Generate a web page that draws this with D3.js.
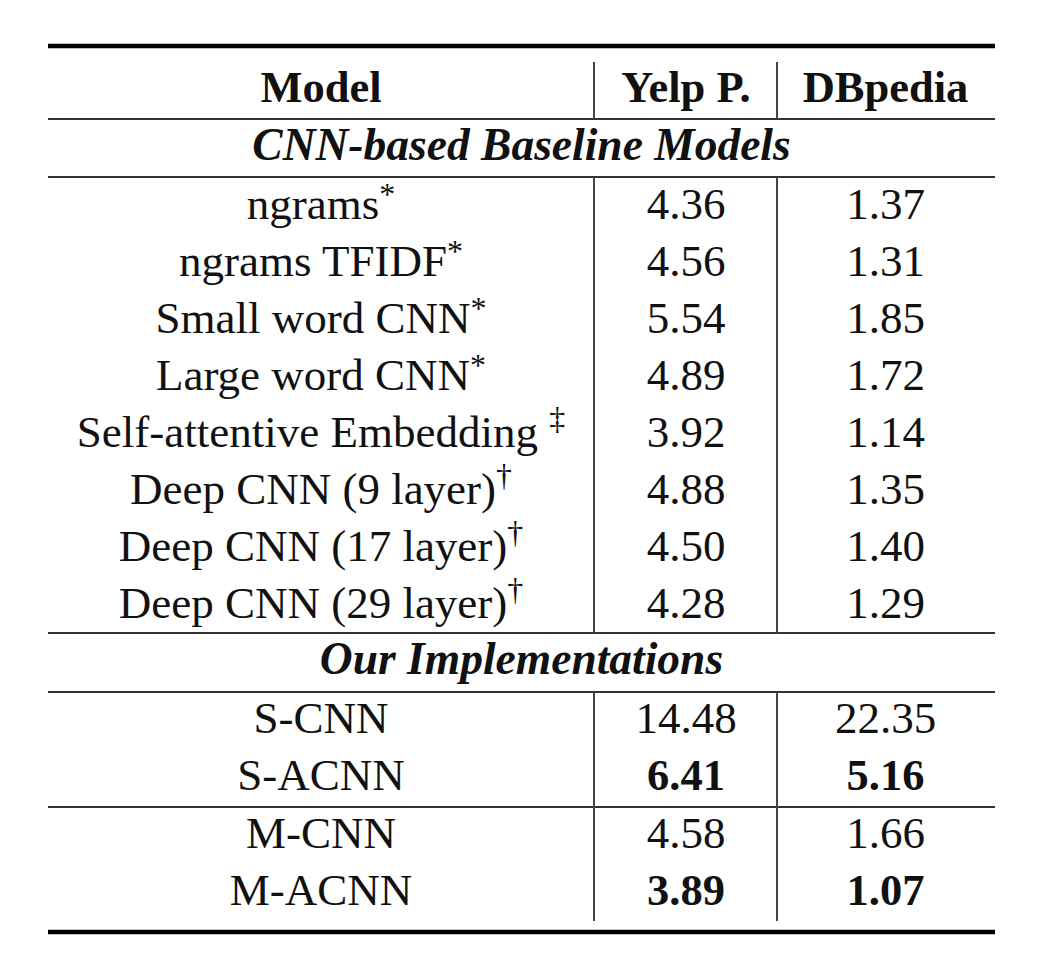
<!DOCTYPE html>
<html>
<head>
<meta charset="utf-8">
<script src="https://cdn.jsdelivr.net/npm/d3@7/dist/d3.min.js"></script>
<style>
  html, body { margin: 0; padding: 0; background: #fff; }
  svg { display: block; }
  text { font-family: "Liberation Serif", "Times New Roman", serif; fill: #111; }
</style>
</head>
<body>
<svg id="chart" width="1042" height="980"></svg>
<script>
// ---- data ----
const headers = ["Model", "Yelp P.", "DBpedia"];
const sections = ["CNN-based Baseline Models", "Our Implementations"];
const baselineModels = ["ngrams", "ngrams TFIDF", "Small word CNN", "Large word CNN",
  "Self-attentive Embedding ", "Deep CNN (9 layer)", "Deep CNN (17 layer)", "Deep CNN (29 layer)"];
const baselineMarks = ["*", "*", "*", "*", "\u2021", "\u2020", "\u2020", "\u2020"];
const baselineYelp = [4.36, 4.56, 5.54, 4.89, 3.92, 4.88, 4.50, 4.28];
const baselineDbpedia = [1.37, 1.31, 1.85, 1.72, 1.14, 1.35, 1.40, 1.29];
const ourModels = ["S-CNN", "S-ACNN", "M-CNN", "M-ACNN"];
const ourYelp = [14.48, 6.41, 4.58, 3.89];
const ourDbpedia = [22.35, 5.16, 1.66, 1.07];
const ourBold = [false, true, false, true];

// ---- layout ----
const svg = d3.select("#chart");
const fmt = d3.format(".2f");
const left = 48, right = 995, col1 = 594, col2 = 777;
const colCenters = [(left + col1) / 2, (col1 + col2) / 2 + 0.5, (col2 + right) / 2 - 0.5];
const FS = 45, FSB = 44.5, FSS = 45.5;

const yTop = 46, yHead = 119, ySec1 = 177, yGrp1End = 633, ySec2 = 692, ySplit = 807, yBodyEnd = 921, yBottom = 932;

const y1 = d3.scaleBand().domain(d3.range(baselineModels.length)).range([ySec1, yGrp1End]);
const y2 = d3.scaleBand().domain(d3.range(ourModels.length)).range([ySec2, yBodyEnd]);
const baseOff = 42;

// rules
const hline = (y, w, c) => svg.append("line").attr("x1", left).attr("x2", right)
  .attr("y1", y).attr("y2", y).attr("stroke", c).attr("stroke-width", w);
hline(yTop, 4.5, "#000");
hline(yHead, 2, "#333");
hline(ySec1, 2, "#333");
hline(yGrp1End, 2, "#333");
hline(ySec2, 2, "#333");
hline(ySplit, 2, "#333");
hline(yBottom, 4.5, "#000");

const vline = (x, ya, yb) => svg.append("line").attr("x1", x).attr("x2", x)
  .attr("y1", ya).attr("y2", yb).attr("stroke", "#444").attr("stroke-width", 2);
[col1, col2].forEach(x => {
  vline(x, 62, yHead);
  vline(x, ySec1, yGrp1End);
  vline(x, ySec2, yBodyEnd);
});

// header
svg.selectAll("text.hdr").data(headers).join("text").attr("class", "hdr")
  .attr("x", (d, i) => colCenters[i]).attr("y", 102)
  .attr("text-anchor", "middle").attr("font-size", FSB).attr("font-weight", "bold")
  .text(d => d);

// section titles
const secY = [160, 674];
svg.selectAll("text.sec").data(sections).join("text").attr("class", "sec")
  .attr("x", (left + right) / 2).attr("y", (d, i) => secY[i])
  .attr("text-anchor", "middle").attr("font-size", FSS).attr("font-weight", "bold")
  .attr("font-style", "italic").text(d => d);

// baseline rows
const g1 = svg.selectAll("g.r1").data(baselineModels.map((m, i) => ({
  m, mark: baselineMarks[i], yelp: baselineYelp[i], db: baselineDbpedia[i], i
}))).join("g").attr("class", "r1")
  .attr("transform", d => `translate(0,${y1(d.i) + baseOff})`);

g1.each(function(d) {
  const g = d3.select(this);
  const t = g.append("text").attr("x", colCenters[0]).attr("text-anchor", "middle").attr("font-size", FS);
  t.append("tspan").text(d.m);
  if (d.mark === "*") {
    t.append("tspan").attr("font-size", 32).attr("dy", -14).text(d.mark);
  } else {
    t.append("tspan").attr("font-size", 32).attr("dy", -18).text(d.mark);
  }
  g.append("text").attr("x", colCenters[1]).attr("text-anchor", "middle").attr("font-size", FS).text(fmt(d.yelp));
  g.append("text").attr("x", colCenters[2]).attr("text-anchor", "middle").attr("font-size", FS).text(fmt(d.db));
});

// our rows
const g2 = svg.selectAll("g.r2").data(ourModels.map((m, i) => ({
  m, yelp: ourYelp[i], db: ourDbpedia[i], b: ourBold[i], i
}))).join("g").attr("class", "r2")
  .attr("transform", d => `translate(0,${y2(d.i) + baseOff - 1})`);

g2.each(function(d) {
  const g = d3.select(this);
  g.append("text").attr("x", colCenters[0]).attr("text-anchor", "middle").attr("font-size", FS).text(d.m);
  g.append("text").attr("x", colCenters[1]).attr("text-anchor", "middle").attr("font-size", d.b ? FSB : FS)
    .attr("font-weight", d.b ? "bold" : "normal").text(fmt(d.yelp));
  g.append("text").attr("x", colCenters[2]).attr("text-anchor", "middle").attr("font-size", d.b ? FSB : FS)
    .attr("font-weight", d.b ? "bold" : "normal").text(fmt(d.db));
});
</script>
</body>
</html>
